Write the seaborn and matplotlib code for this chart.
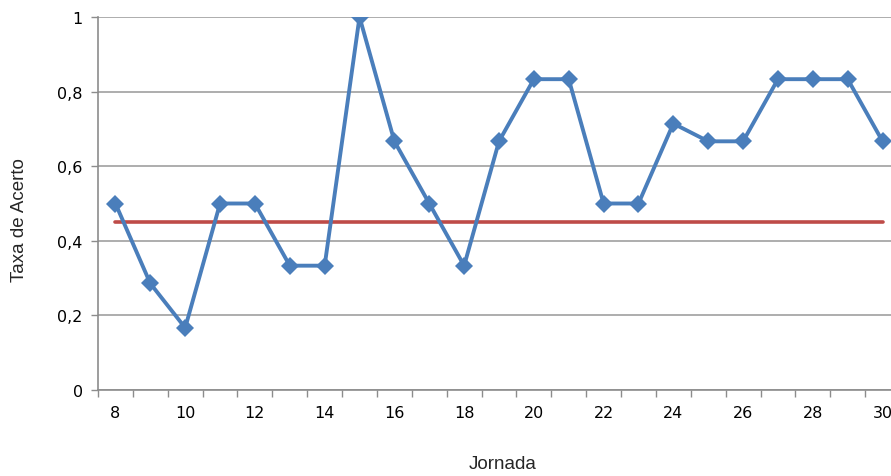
import matplotlib
matplotlib.use("Agg")
import matplotlib.pyplot as plt
import matplotlib.ticker as mticker
import numpy as np
import pandas as pd
import seaborn as sns

# Jornada numbers and hit rate per round
jornadas = list(range(8, 31))
taxa_acerto = [0.5, 0.2857, 0.1667, 0.5, 0.5, 0.3333, 0.3333, 1.0, 0.6667, 0.5,
               0.3333, 0.6667, 0.8333, 0.8333, 0.5, 0.5, 0.7143, 0.6667, 0.6667,
               0.8333, 0.8333, 0.8333, 0.6667]
referencia = [0.45] * len(jornadas)
y_ticks = [0, 0.2, 0.4, 0.6, 0.8, 1.0]
x_labels = list(range(8, 31, 2))

sns.set_theme(style="white")
plt.rcParams['font.family'] = ['DejaVu Sans']

df = pd.DataFrame({"Jornada": jornadas, "Taxa": taxa_acerto, "Ref": referencia})

fig = plt.figure(figsize=(8.91, 4.77), dpi=100)
ax = fig.add_axes([98 / 891, 86 / 477, 802 / 891, 373 / 477])

sns.lineplot(data=df, x="Jornada", y="Ref", ax=ax, color="#be4b48",
             linewidth=2.6, zorder=2)
sns.lineplot(data=df, x="Jornada", y="Taxa", ax=ax, color="#4a7ebb",
             linewidth=2.8, marker="D", markersize=9, markeredgewidth=0,
             zorder=3)

ax.set_xlim(7.5, 30.5)
ax.set_ylim(0, 1)
ax.set_yticks(y_ticks)
ax.yaxis.set_major_formatter(mticker.FuncFormatter(
    lambda v, _: "0" if v == 0 else ("1" if v == 1 else f"{v:.1f}".replace(".", ","))))
ax.set_xticks(x_labels)
ax.set_xticks(np.arange(7.5, 31, 1), minor=True)
ax.tick_params(axis="x", which="major", length=0, pad=11, labelsize=11.5, colors="#000000")
ax.tick_params(axis="x", which="minor", length=5, width=1, color="#8c8c8c", direction="out", bottom=True)
ax.tick_params(axis="y", which="major", length=5, width=1, color="#8c8c8c", direction="out",
               left=True, pad=6, labelsize=11.5, labelcolor="#000000")

ax.grid(axis="y", color="#a0a0a0", linewidth=1.2, zorder=0)
ax.grid(axis="x", visible=False)
ax.set_axisbelow(True)

for side in ["top", "right"]:
    ax.spines[side].set_visible(False)
for side in ["left", "bottom"]:
    ax.spines[side].set_color("#8c8c8c")
    ax.spines[side].set_linewidth(1.2)

ax.set_xlabel("Jornada", fontsize=13.5, family="Liberation Sans", va="center")
ax.set_ylabel("Taxa de Acerto", fontsize=13.5, family="Liberation Sans", va="center")
ax.xaxis.set_label_coords((503 - 98) / 802, -(465 - 391) / 373)
ax.yaxis.set_label_coords(-(98 - 20) / 802, (391 - 220) / 373)

fig.savefig("out.png", dpi=100)
